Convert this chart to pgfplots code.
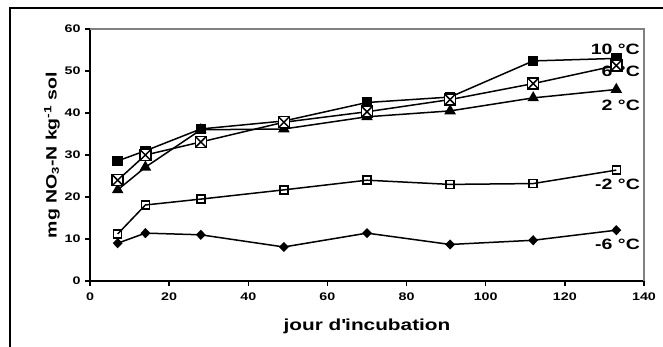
\documentclass[border=0pt]{standalone}
\usepackage{fontspec}
\setmainfont[FakeStretch=1.3]{Liberation Sans}
\usepackage{pgfplots}
\pgfplotsset{compat=1.18}
\pgfdeclareplotmark{boxx}{%
  \pgfpathrectangle{\pgfpoint{-\pgfplotmarksize}{-\pgfplotmarksize}}{\pgfpoint{2\pgfplotmarksize}{2\pgfplotmarksize}}%
  \pgfusepathqfillstroke
  \pgfpathmoveto{\pgfpoint{-\pgfplotmarksize}{-\pgfplotmarksize}}%
  \pgfpathlineto{\pgfpoint{\pgfplotmarksize}{\pgfplotmarksize}}%
  \pgfpathmoveto{\pgfpoint{-\pgfplotmarksize}{\pgfplotmarksize}}%
  \pgfpathlineto{\pgfpoint{\pgfplotmarksize}{-\pgfplotmarksize}}%
  \pgfusepathqstroke
}
\begin{document}
\begin{tikzpicture}
\useasboundingbox (0,0) rectangle (663pt,346pt);
\begin{scope}
\clip (0,0) rectangle (663pt,346pt);
\draw[line width=1.3pt] (10pt,-10pt) rectangle (670pt,338pt);
\end{scope}
\begin{axis}[
  at={(90pt,65pt)}, anchor=south west,
  scale only axis, width=554pt, height=252pt,
  xmin=0, xmax=140, ymin=0, ymax=60,
  xtick={0,20,...,140}, ytick={0,10,...,60},
  axis x line*=bottom, axis y line*=left,
  axis line style={line width=2pt, black, -},
  tick style={line width=1.5pt, black},
  tick align=outside, major tick length=5pt,
  /pgf/number format/assume math mode=true,
  tick label style={font=\bfseries\fontsize{11}{12}\selectfont},
  xticklabel style={yshift=-3pt},
  yticklabel style={xshift=-1pt},
  xlabel={\bfseries jour d\textquotesingle incubation},
  xlabel style={font=\fontsize{16}{18}\selectfont, yshift=-12pt},
  ylabel={\bfseries mg NO\raisebox{-0.15em}{\fontsize{10}{10}\selectfont 3}-N kg\textsuperscript{-1} sol},
  ylabel style={font=\fontsize{15}{17}\selectfont, yshift=-2pt},
  clip=false,
  every axis plot/.append style={line width=1.5pt, black},
]
\draw[gray, line width=1.5pt] (rel axis cs:0,1) -- (rel axis cs:1,1) -- (rel axis cs:1,0);
% -6 C
\addplot[mark=diamond*, mark size=4pt, mark options={xscale=1.3}] coordinates {
(7,9.0) (14,11.4) (28,11.0) (49,8.1) (70,11.4) (91,8.7) (112,9.7) (133,12.1)};
% -2 C
\addplot[mark=square, mark size=4pt, mark options={fill=white, line width=1.5pt}] coordinates {
(7,11.2) (14,18.1) (28,19.5) (49,21.7) (70,24.0) (91,23.0) (112,23.2) (133,26.4)};
% 2 C
\addplot[mark=triangle*, mark size=5.2pt] coordinates {
(7,21.7) (14,27.1) (28,36.0) (49,36.2) (70,39.1) (91,40.5) (112,43.6) (133,45.6)};
% 10 C
\addplot[mark=square*, mark size=4.5pt] coordinates {
(7,28.6) (14,31.0) (28,36.2) (49,38.1) (70,42.5) (91,43.8) (112,52.4) (133,53.0)};
% 6 C
\addplot[mark=boxx, mark size=5.5pt, mark options={fill=white, line width=1.5pt}] coordinates {
(7,24.0) (14,30.0) (28,33.1) (49,37.8) (70,40.3) (91,43.2) (112,47.0) (133,51.3)};
\begin{scope}[every node/.style={anchor=base east, inner sep=0pt, font=\bfseries\fontsize{15}{17}\selectfont}]
\node at (axis cs:139,54.0) {10 °C};
\node at (axis cs:139,48.6) {6 °C};
\node at (axis cs:139,40.5) {2 °C};
\node at (axis cs:139,21.7) {-2 °C};
\node at (axis cs:139,7.4) {-6 °C};
\end{scope}
\end{axis}
\end{tikzpicture}
\end{document}
